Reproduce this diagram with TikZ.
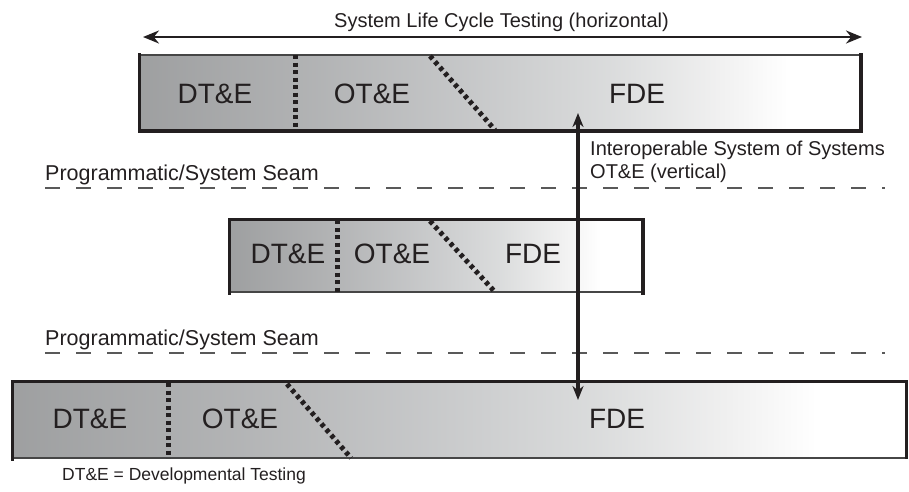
\documentclass[tikz,border=0pt]{standalone}
\usepackage{fontspec}
\setmainfont{Liberation Sans}
\usetikzlibrary{arrows.meta}
\definecolor{sc0}{HTML}{9FA0A1}
\definecolor{sc1}{HTML}{B3B4B5}
\definecolor{sc2}{HTML}{C6C7C8}
\definecolor{sc3}{HTML}{DADBDC}
\definecolor{sc4}{HTML}{F0F0F0}
\definecolor{txt}{HTML}{231F20}
\pgfdeclarehorizontalshading{barshade}{100bp}{rgb(0bp)=(0.62,0.625,0.63); rgb(25bp)=(0.62,0.625,0.63); rgb(37.5bp)=(0.70,0.705,0.71); rgb(47.5bp)=(0.775,0.78,0.785); rgb(57.5bp)=(0.855,0.86,0.862); rgb(65bp)=(0.94,0.94,0.94); rgb(70bp)=(1,1,1); rgb(100bp)=(1,1,1)}
\tikzset{
  bar/.style={draw=gray!55!black, line width=1.2pt, shading=barshade, inner sep=0pt},
  rim/.style={draw=txt, line width=3.8pt, line cap=rect},
  sepline/.style={draw=txt, line width=5pt, dash pattern=on 4pt off 3.5pt},
  seam/.style={draw=gray!70!black, line width=1.2pt, dash pattern=on 15pt off 16pt},
  big/.style={inner sep=0pt, anchor=base, text=txt, font=\fontsize{28}{32}\selectfont},
  mid/.style={inner sep=0pt, text=txt, font=\fontsize{20}{24}\selectfont},
  seamlbl/.style={inner sep=0pt, anchor=base west, text=txt, font=\fontsize{21.5}{26}\selectfont},
  harrow/.style={draw=txt, line width=2.4pt, {Stealth[length=16pt,width=13pt]}-{Stealth[length=16pt,width=13pt]}},
  varrow/.style={draw=txt, line width=3.2pt, {Stealth[length=14pt,width=11pt]}-{Stealth[length=14pt,width=11pt]}}
}
\begin{document}
\begin{tikzpicture}[x=1pt,y=-1pt]
\useasboundingbox (0,0) rectangle (909,491);
% title arrow
\node[mid, anchor=base] (title) at (501.5,27) {System Life Cycle Testing (horizontal)};
\coordinate (hl) at (143,37);
\coordinate (hr) at (862,37);
\draw[harrow] (hl) -- (hr);
% top bar
\node[bar, minimum width=720pt, minimum height=75pt] (top) at (500,92.5) {};
\draw[rim] (top.north west) -- (top.south west) -- (top.south east) -- (top.north east);
\draw[sepline] (295,55) -- (295,130);
\draw[sepline] (430,56) -- (495,130);
\node[big] (t1) at (215,103) {DT\&E};
\node[big] (t2) at (372,103) {OT\&E};
\node[big] (t3) at (637,103) {FDE};
% seam 1
\node[seamlbl] (s1) at (45,180) {Programmatic/System Seam};
\draw[seam] (45,188) -- (885,188);
% interoperable label
\node[mid, anchor=base west] (i1) at (590,155) {Interoperable System of Systems};
\node[mid, anchor=base west] (i2) at (590,178) {OT\&E (vertical)};
% middle bar
\node[bar, minimum width=412pt, minimum height=72pt] (midbar) at (436,256) {};
\draw[rim] (midbar.south west) -- (midbar.north west) -- (midbar.north east) -- (midbar.south east);
\draw[sepline] (337,220) -- (337,292);
\draw[sepline] (430,221) -- (495,292);
\node[big] (m1) at (288,263) {DT\&E};
\node[big] (m2) at (392,263) {OT\&E};
\node[big] (m3) at (533,263) {FDE};
% seam 2
\node[seamlbl] (s2) at (45,345) {Programmatic/System Seam};
\draw[seam] (45,353) -- (885,353);
% bottom bar
\node[bar, minimum width=893pt, minimum height=76pt] (bot) at (459.5,420) {};
\draw[rim] (bot.south west) -- (bot.north west);
\draw[draw=txt, line width=2.4pt] (bot.north west) -- (bot.north east) -- (bot.south east);
\draw[sepline] (168,383) -- (168,458);
\draw[sepline] (287,384) -- (351,458);
\node[big] (b1) at (90,428) {DT\&E};
\node[big] (b2) at (240,428) {OT\&E};
\node[big] (b3) at (617,428) {FDE};
% caption
\node[inner sep=0pt, anchor=base west, text=txt, font=\fontsize{17.5}{20}\selectfont] (cap) at (62,480) {DT\&E = Developmental Testing};
% vertical arrow
\coordinate (vt) at (578,113);
\coordinate (vb) at (578,400);
\draw[varrow] (vt) -- (vb);
\end{tikzpicture}
\end{document}
